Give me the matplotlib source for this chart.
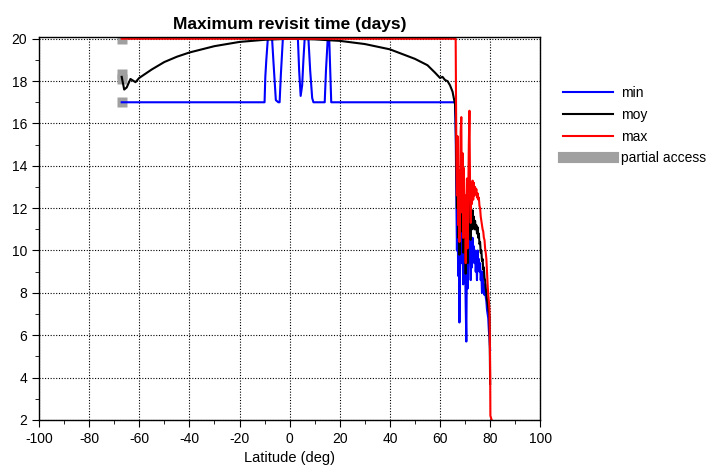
import matplotlib
matplotlib.use("Agg")
import matplotlib.pyplot as plt
from matplotlib.lines import Line2D

plt.rcParams['font.family'] = ['Liberation Sans', 'DejaVu Sans']
plt.rcParams['axes.unicode_minus'] = False

# --- data ---
lat_dense = [66.25, 66.5, 66.75, 67, 67.25, 67.5, 67.75, 68, 68.25, 68.5, 68.75, 69,
             69.25, 69.5, 69.75, 70, 70.25, 70.5, 70.75, 71, 71.25, 71.5, 71.75, 72,
             72.25, 72.5, 72.75, 73, 73.25, 73.5, 73.75, 74, 74.25, 74.5, 74.75, 75,
             75.25, 75.5, 75.75, 76, 76.25, 76.5, 76.75, 77, 77.25, 77.5, 77.75, 78,
             78.25, 78.5, 78.75, 79, 79.25, 79.5, 79.75, 80]

# min
lat_min = [-67, -10, -9.7, -9.3, -8.7, -7.0, -6.5, -5.5, -4.5, -4.0, -3.5, -2.7,
           3.3, 3.8, 4.4, 5.0, 5.5, 6.0, 7.5, 8.2, 9.0, 9.5, 14.0, 14.5, 15.2, 15.8,
           16.6, 66.0] + lat_dense
val_min = [17, 17, 18.2, 19.0, 20, 20, 19.0, 17.1, 17.0, 17.0, 18.3, 20,
           20, 18.5, 17.3, 17.8, 19.0, 20, 20, 18.5, 17.2, 17, 17, 18.5, 20, 20,
           17, 17,
           15.6, 12.8, 10.0, 12.2, 8.8, 10.6, 6.6, 9.2, 11.4, 12.0, 9.4, 11.2,
           8.4, 10.3, 9.0, 9.8, 7.4, 5.7, 10.2, 8.2, 9.6, 11.0, 12.0, 9.8,
           8.6, 10.4, 9.2, 10.6, 9.6, 10.2, 9.4, 10.0, 9.0, 9.6, 8.6, 10.0,
           9.3, 9.6, 9.0, 9.4, 8.6, 9.0, 8.0, 9.0, 8.5, 8.2, 7.9, 8.4,
           7.8, 7.6, 7.2, 7.0, 6.8, 6.2, 5.9, 5.3]

# moy
lat_moy = [-67, -66, -65, -63.5, -61.5, -60, -55, -50, -45, -40, -30, -20, -10, 0,
           10, 20, 30, 40, 50, 55, 58, 60, 61, 62, 63, 64, 65, 65.5, 66.0] + lat_dense
val_moy = [18.2, 17.6, 17.7, 18.1, 17.95, 18.15, 18.55, 18.9, 19.15, 19.35, 19.65,
           19.85, 19.95, 20.0, 19.97, 19.9, 19.75, 19.5, 19.05, 18.75, 18.4, 18.15,
           18.2, 18.05, 18.0, 17.8, 17.5, 17.2, 16.9,
           16.2, 14.2, 12.0, 13.6, 10.6, 12.2, 9.8, 11.0, 12.8, 13.6, 10.9, 12.5,
           9.9, 11.8, 10.4, 11.3, 8.9, 10.2, 11.8, 9.4, 10.9, 12.6, 13.4, 11.5,
           10.5, 11.8, 11.0, 11.9, 11.2, 11.6, 11.0, 11.4, 11.0, 11.2, 10.8, 11.1,
           10.6, 10.8, 10.3, 10.4, 9.9, 10.0, 9.5, 9.6, 9.1, 9.2, 8.7, 8.6,
           8.2, 8.0, 7.7, 7.5, 7.3, 7.1, 6.9, 3.7]

# max
lat_max = [-67, 66.0] + lat_dense + [80.1, 80.6]
val_max = [20, 20,
           20, 15.0, 12.6, 15.4, 11.2, 13.8, 10.4, 13.0, 15.6, 16.3, 11.8, 14.6,
           10.6, 13.9, 11.2, 12.6, 9.4, 11.9, 13.4, 10.1, 12.4, 15.0, 16.6, 12.9,
           11.3, 13.1, 12.2, 13.3, 12.4, 13.2, 12.6, 13.0, 12.7, 12.9, 12.5, 12.7,
           12.4, 12.5, 12.1, 12.0, 11.6, 11.4, 11.2, 11.0, 10.9, 10.6, 10.5, 10.1,
           9.9, 9.6, 9.0, 8.4, 7.9, 7.6, 7.2, 4.6,
           2.2, 2.0]

# partial access
lat_partial = [-67, -67, -67, -67]
val_partial = [20, 18.35, 18.1, 17]

fig = plt.figure(figsize=(7.09, 4.75), dpi=100)
ax = fig.add_axes([0.055, 0.116, 0.707, 0.806])

ax.plot(lat_partial, val_partial, 's', color='#a0a0a0', ms=7, mec='none')
ax.plot(lat_min, val_min, color='#0000ff', lw=1.5)
ax.plot(lat_moy, val_moy, color='black', lw=1.5)
ax.plot(lat_max, val_max, color='#ff0000', lw=1.5)

ax.set_xlim(-100, 100)
ax.set_ylim(2, 20.08)  # tiny headroom so the 20-day line shows under the frame
ax.set_xticks(range(-100, 101, 20))
ax.set_xticks(range(-100, 101, 10), minor=True)
ax.set_yticks(range(2, 21, 2))
ax.set_yticks(range(3, 21, 2), minor=True)
ax.grid(True, which='major', linestyle=(0, (1, 1.5)), color='black', lw=0.8)
ax.tick_params(which='both', direction='out', top=False, right=False, labelsize=10)
ax.tick_params(which='major', length=5)
ax.tick_params(which='minor', length=3)
for s in ax.spines.values():
    s.set_linewidth(1.0)

ax.set_xlabel('Latitude (deg)', fontsize=10.5)
ax.set_title('Maximum revisit time (days)', fontsize=12.5, fontweight='bold', pad=6)

handles = [Line2D([], [], color='#0000ff', lw=1.5),
           Line2D([], [], color='black', lw=1.5),
           Line2D([], [], color='#ff0000', lw=1.5),
           Line2D([], [], color='#a0a0a0', lw=8)]
fig.legend(handles, ['min', 'moy', 'max', 'partial access'],
           loc='upper left', bbox_to_anchor=(0.786, 0.83), frameon=False,
           fontsize=10, handlelength=3.6, labelspacing=0.55, handletextpad=0.6,
           borderaxespad=0.0)

fig.savefig('out.png', dpi=100)
